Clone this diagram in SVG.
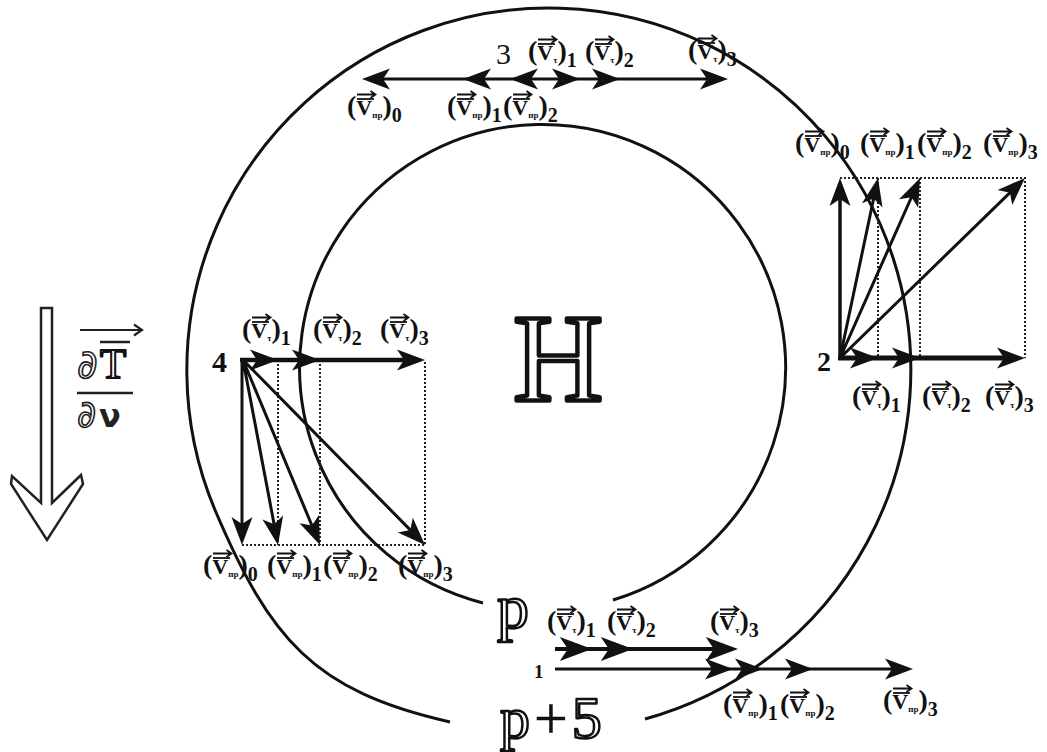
<svg xmlns="http://www.w3.org/2000/svg" xmlns:xlink="http://www.w3.org/1999/xlink" width="1047" height="752" viewBox="0 0 1047 752">
<style>
  .crv{fill:none;stroke:#111;stroke-width:3}
  .ln{fill:none;stroke:#111;stroke-linecap:butt}
  .dot{fill:none;stroke:#222;stroke-width:2;stroke-dasharray:2 2}
  .ahd{fill:#111}
  .lbl text{font-family:"Liberation Serif","Times New Roman",serif;font-weight:bold;fill:#111}
  .pa{font-size:28px}
  .vv{font-size:22px}
  .sb{font-size:9px}
  .nm{font-size:20px}
  .dec{fill:none;stroke:#111;stroke-width:1.8}
  .pt{font-family:"Liberation Serif","Times New Roman",serif;fill:#111}
  .big{font-family:"Liberation Serif","Times New Roman",serif;fill:#fff;stroke:#111;stroke-linejoin:round}
</style>
<defs>
  <path id="ah" class="ahd" d="M0,0 L-28,-10.5 L-21,0 L-28,10.5 Z"/>
  <g id="dec" class="dec"><path d="M10,-16 H27"/><path d="M10,-20.5 H28 M23.5,-24 L28.5,-20.5 L23.5,-17"/></g>
</defs>
<rect width="1047" height="752" fill="#fff"/>

<g id="connectors">
  <path id="inner-curve" class="crv" d="M613,600 A243 243 0 1 0 483,603"/>
  <path id="outer-curve" class="crv" d="M645,719 A362 362 0 1 0 215,510 C270,639 313,691 450,722"/>
</g>

<g id="gradient-arrow">
  <polygon points="41,308 52,308 52,503 81,475 83,484 47,540 11,484 12,476 41,503" fill="#fff" stroke="#222" stroke-width="2.5" stroke-linejoin="miter"/>
  <path d="M80,330 H142 M134,324.5 L142,330 L134,335.5" fill="none" stroke="#222" stroke-width="2.2"/>
  <path d="M100,342 H130" stroke="#222" stroke-width="2.5"/>
  <text x="77" y="378" font-family="DejaVu Sans, sans-serif" font-size="40" fill="#fff" stroke="#222" stroke-width="1.6">∂</text>
  <text x="100" y="378" class="big" font-size="43" stroke-width="2">T</text>
  <path d="M77,393 H133" stroke="#222" stroke-width="2.5"/>
  <text x="77" y="427" font-family="DejaVu Sans, sans-serif" font-size="37" fill="#fff" stroke="#222" stroke-width="1.6">∂</text>
  <text x="99" y="427" font-family="DejaVu Sans, sans-serif" font-weight="bold" font-size="32" fill="#222">ν</text>
</g>

<g id="label-H"><text x="513" y="400" class="big" font-size="125" stroke-width="4.5">H</text></g>
<g id="label-p"><text x="497" y="628" class="big" font-size="64" stroke-width="2.5">p</text></g>
<g id="label-p5"><text x="500" y="738" class="big" font-size="60" stroke-width="2.5">p<tspan fill="#111" stroke-width="0.5" dx="4">+</tspan><tspan dx="4">5</tspan></text></g>

<g id="point-3">
  <path class="ln" stroke-width="3" d="M370,79 H718"/>
  <use href="#ah" transform="translate(362,79) rotate(180)"/>
  <use href="#ah" transform="translate(463,79) rotate(180)"/>
  <use href="#ah" transform="translate(510,79) rotate(180)"/>
  <use href="#ah" transform="translate(580,79)"/>
  <use href="#ah" transform="translate(620,79)"/>
  <use href="#ah" transform="translate(728,79)"/>
  <text class="pt" x="496" y="64" font-size="30" fill="#1a1a3a">3</text>
  <g class="lbl" transform="translate(528,60)"><text><tspan class="pa">(</tspan><tspan class="vv">V</tspan><tspan class="sb" dy="3">τ</tspan><tspan class="pa" dy="-3">)</tspan><tspan class="nm" dy="7">1</tspan></text><use href="#dec"/></g>
  <g class="lbl" transform="translate(585,60)"><text><tspan class="pa">(</tspan><tspan class="vv">V</tspan><tspan class="sb" dy="3">τ</tspan><tspan class="pa" dy="-3">)</tspan><tspan class="nm" dy="7">2</tspan></text><use href="#dec"/></g>
  <g class="lbl" transform="translate(688,59)"><text><tspan class="pa">(</tspan><tspan class="vv">V</tspan><tspan class="sb" dy="3">τ</tspan><tspan class="pa" dy="-3">)</tspan><tspan class="nm" dy="7">3</tspan></text><use href="#dec"/></g>
  <g class="lbl" transform="translate(347,115)"><text><tspan class="pa">(</tspan><tspan class="vv">V</tspan><tspan class="sb" dy="3">пр</tspan><tspan class="pa" dy="-3">)</tspan><tspan class="nm" dy="7">0</tspan></text><use href="#dec"/></g>
  <g class="lbl" transform="translate(447,115)"><text><tspan class="pa">(</tspan><tspan class="vv">V</tspan><tspan class="sb" dy="3">пр</tspan><tspan class="pa" dy="-3">)</tspan><tspan class="nm" dy="7">1</tspan></text><use href="#dec"/></g>
  <g class="lbl" transform="translate(503,115)"><text><tspan class="pa">(</tspan><tspan class="vv">V</tspan><tspan class="sb" dy="3">пр</tspan><tspan class="pa" dy="-3">)</tspan><tspan class="nm" dy="7">2</tspan></text><use href="#dec"/></g>
</g>

<g id="point-2">
  <path class="dot" d="M840,178 H1025 V358 M878,178 V358 M920,178 V358"/>
  <path class="ln" stroke-width="3.5" d="M840,358 V190"/>
  <path class="ln" stroke-width="3" d="M840,358 L875.5,189.7 M840,358 L915.1,189 M840,358 L1016.4,186.4"/>
  <path class="ln" stroke-width="5" d="M838,358 H1015"/>
  <use href="#ah" transform="translate(840,178) rotate(-90)"/>
  <use href="#ah" transform="translate(878,178) rotate(-78.08)"/>
  <use href="#ah" transform="translate(920,178) rotate(-66.04)"/>
  <use href="#ah" transform="translate(1025,178) rotate(-44.22)"/>
  <use href="#ah" transform="translate(878,358)"/>
  <use href="#ah" transform="translate(920,358)"/>
  <use href="#ah" transform="translate(1025,358)"/>
  <text class="pt" x="817" y="371" font-size="28" font-weight="bold">2</text>
  <g class="lbl" transform="translate(795,152)"><text><tspan class="pa">(</tspan><tspan class="vv">V</tspan><tspan class="sb" dy="3">пр</tspan><tspan class="pa" dy="-3">)</tspan><tspan class="nm" dy="7">0</tspan></text><use href="#dec"/></g>
  <g class="lbl" transform="translate(860,152)"><text><tspan class="pa">(</tspan><tspan class="vv">V</tspan><tspan class="sb" dy="3">пр</tspan><tspan class="pa" dy="-3">)</tspan><tspan class="nm" dy="7">1</tspan></text><use href="#dec"/></g>
  <g class="lbl" transform="translate(917,152)"><text><tspan class="pa">(</tspan><tspan class="vv">V</tspan><tspan class="sb" dy="3">пр</tspan><tspan class="pa" dy="-3">)</tspan><tspan class="nm" dy="7">2</tspan></text><use href="#dec"/></g>
  <g class="lbl" transform="translate(983,152)"><text><tspan class="pa">(</tspan><tspan class="vv">V</tspan><tspan class="sb" dy="3">пр</tspan><tspan class="pa" dy="-3">)</tspan><tspan class="nm" dy="7">3</tspan></text><use href="#dec"/></g>
  <g class="lbl" transform="translate(852,405)"><text><tspan class="pa">(</tspan><tspan class="vv">V</tspan><tspan class="sb" dy="3">τ</tspan><tspan class="pa" dy="-3">)</tspan><tspan class="nm" dy="7">1</tspan></text><use href="#dec"/></g>
  <g class="lbl" transform="translate(922,405)"><text><tspan class="pa">(</tspan><tspan class="vv">V</tspan><tspan class="sb" dy="3">τ</tspan><tspan class="pa" dy="-3">)</tspan><tspan class="nm" dy="7">2</tspan></text><use href="#dec"/></g>
  <g class="lbl" transform="translate(985,405)"><text><tspan class="pa">(</tspan><tspan class="vv">V</tspan><tspan class="sb" dy="3">τ</tspan><tspan class="pa" dy="-3">)</tspan><tspan class="nm" dy="7">3</tspan></text><use href="#dec"/></g>
</g>

<g id="point-4">
  <path class="dot" d="M242,545 H425 V360 M278,360 V545 M320,360 V545"/>
  <path class="ln" stroke-width="3" d="M242,360 V533 M243,360 L275.8,533.2 M243,360 L315.4,533.9 M243,360 L416.6,536.4"/>
  <path class="ln" stroke-width="4.5" d="M240,360 H415"/>
  <use href="#ah" transform="translate(242,545) rotate(90)"/>
  <use href="#ah" transform="translate(278,545) rotate(79.29)"/>
  <use href="#ah" transform="translate(320,545) rotate(67.4)"/>
  <use href="#ah" transform="translate(425,545) rotate(45.47)"/>
  <use href="#ah" transform="translate(278,360)"/>
  <use href="#ah" transform="translate(320,360)"/>
  <use href="#ah" transform="translate(425,360)"/>
  <text class="pt" x="212" y="372" font-size="30" font-weight="bold" fill="#1a1a3a">4</text>
  <g class="lbl" transform="translate(242,338)"><text><tspan class="pa">(</tspan><tspan class="vv">V</tspan><tspan class="sb" dy="3">τ</tspan><tspan class="pa" dy="-3">)</tspan><tspan class="nm" dy="7">1</tspan></text><use href="#dec"/></g>
  <g class="lbl" transform="translate(313,338)"><text><tspan class="pa">(</tspan><tspan class="vv">V</tspan><tspan class="sb" dy="3">τ</tspan><tspan class="pa" dy="-3">)</tspan><tspan class="nm" dy="7">2</tspan></text><use href="#dec"/></g>
  <g class="lbl" transform="translate(380,338)"><text><tspan class="pa">(</tspan><tspan class="vv">V</tspan><tspan class="sb" dy="3">τ</tspan><tspan class="pa" dy="-3">)</tspan><tspan class="nm" dy="7">3</tspan></text><use href="#dec"/></g>
  <g class="lbl" transform="translate(203,574)"><text><tspan class="pa">(</tspan><tspan class="vv">V</tspan><tspan class="sb" dy="3">пр</tspan><tspan class="pa" dy="-3">)</tspan><tspan class="nm" dy="7">0</tspan></text><use href="#dec"/></g>
  <g class="lbl" transform="translate(267,574)"><text><tspan class="pa">(</tspan><tspan class="vv">V</tspan><tspan class="sb" dy="3">пр</tspan><tspan class="pa" dy="-3">)</tspan><tspan class="nm" dy="7">1</tspan></text><use href="#dec"/></g>
  <g class="lbl" transform="translate(323,574)"><text><tspan class="pa">(</tspan><tspan class="vv">V</tspan><tspan class="sb" dy="3">пр</tspan><tspan class="pa" dy="-3">)</tspan><tspan class="nm" dy="7">2</tspan></text><use href="#dec"/></g>
  <g class="lbl" transform="translate(398,574)"><text><tspan class="pa">(</tspan><tspan class="vv">V</tspan><tspan class="sb" dy="3">пр</tspan><tspan class="pa" dy="-3">)</tspan><tspan class="nm" dy="7">3</tspan></text><use href="#dec"/></g>
</g>

<g id="point-1">
  <path class="ln" stroke-width="4" d="M555,649 H728"/>
  <path class="ln" stroke-width="3" d="M555,669 H903"/>
  <use href="#ah" transform="translate(592,649) scale(1.15)"/>
  <use href="#ah" transform="translate(633,649) scale(1.15)"/>
  <use href="#ah" transform="translate(738,649) scale(1.15)"/>
  <use href="#ah" transform="translate(733,669)"/>
  <use href="#ah" transform="translate(763,669)"/>
  <use href="#ah" transform="translate(813,669)"/>
  <use href="#ah" transform="translate(913,669)"/>
  <text class="pt" x="534" y="678" font-size="19" font-weight="bold">1</text>
  <g class="lbl" transform="translate(547,630)"><text><tspan class="pa">(</tspan><tspan class="vv">V</tspan><tspan class="sb" dy="3">τ</tspan><tspan class="pa" dy="-3">)</tspan><tspan class="nm" dy="7">1</tspan></text><use href="#dec"/></g>
  <g class="lbl" transform="translate(607,630)"><text><tspan class="pa">(</tspan><tspan class="vv">V</tspan><tspan class="sb" dy="3">τ</tspan><tspan class="pa" dy="-3">)</tspan><tspan class="nm" dy="7">2</tspan></text><use href="#dec"/></g>
  <g class="lbl" transform="translate(710,630)"><text><tspan class="pa">(</tspan><tspan class="vv">V</tspan><tspan class="sb" dy="3">τ</tspan><tspan class="pa" dy="-3">)</tspan><tspan class="nm" dy="7">3</tspan></text><use href="#dec"/></g>
  <g class="lbl" transform="translate(723,713)"><text><tspan class="pa">(</tspan><tspan class="vv">V</tspan><tspan class="sb" dy="3">пр</tspan><tspan class="pa" dy="-3">)</tspan><tspan class="nm" dy="7">1</tspan></text><use href="#dec"/></g>
  <g class="lbl" transform="translate(780,713)"><text><tspan class="pa">(</tspan><tspan class="vv">V</tspan><tspan class="sb" dy="3">пр</tspan><tspan class="pa" dy="-3">)</tspan><tspan class="nm" dy="7">2</tspan></text><use href="#dec"/></g>
  <g class="lbl" transform="translate(883,709)"><text><tspan class="pa">(</tspan><tspan class="vv">V</tspan><tspan class="sb" dy="3">пр</tspan><tspan class="pa" dy="-3">)</tspan><tspan class="nm" dy="7">3</tspan></text><use href="#dec"/></g>
</g>
</svg>
